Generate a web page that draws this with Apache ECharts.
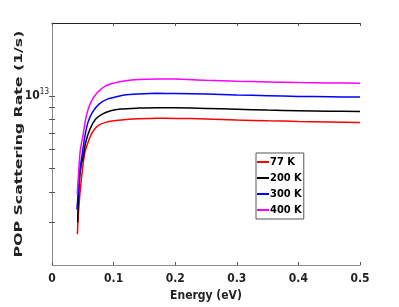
<!DOCTYPE html>
<html>
<head>
<meta charset="utf-8">
<script src="https://cdn.jsdelivr.net/npm/echarts@6/dist/echarts.min.js"></script>
<style>
html,body{margin:0;padding:0;background:#fff;}
#c{width:399px;height:307px;}
</style>
</head>
<body>
<div id="c"></div>
<script>
// Energy (eV) sample points per curve, and POP scattering rate in units of 1e12 1/s
const energy77  = [0.0412, 0.0433, 0.0476, 0.053, 0.0584, 0.0655, 0.0747, 0.087, 0.1006, 0.117, 0.14, 0.17, 0.2, 0.25, 0.3, 0.35, 0.4, 0.45, 0.5];
const rate77    = [2.68, 3.39, 4.51, 5.77, 6.42, 7.06, 7.53, 7.77, 7.89, 7.97, 8.04, 8.08, 8.07, 8.03, 7.95, 7.89, 7.84, 7.80, 7.76];
const energy200 = [0.0417, 0.0422, 0.0443, 0.047, 0.0509, 0.0547, 0.0617, 0.0709, 0.0817, 0.0953, 0.1115, 0.14, 0.17, 0.2, 0.25, 0.3, 0.35, 0.4, 0.45, 0.5];
const rate200   = [3.00, 3.39, 4.38, 5.10, 5.66, 6.42, 7.29, 8.02, 8.41, 8.68, 8.82, 8.90, 8.94, 8.93, 8.87, 8.80, 8.73, 8.68, 8.64, 8.62];
const energy300 = [0.0405, 0.0428, 0.0453, 0.0487, 0.0536, 0.0584, 0.0655, 0.0763, 0.0898, 0.106, 0.117, 0.14, 0.17, 0.2, 0.25, 0.3, 0.35, 0.4, 0.45, 0.5];
const rate300   = [3.39, 4.10, 4.96, 5.66, 6.85, 7.77, 8.54, 9.24, 9.69, 9.93, 10.07, 10.17, 10.24, 10.23, 10.17, 10.09, 10.02, 9.95, 9.91, 9.88];
const energy400 = [0.041, 0.043, 0.0455, 0.048, 0.0503, 0.0557, 0.0628, 0.0736, 0.087, 0.103, 0.117, 0.14, 0.17, 0.2, 0.25, 0.3, 0.35, 0.4, 0.45, 0.5];
const rate400   = [3.92, 4.73, 5.83, 6.41, 6.85, 8.27, 9.38, 10.32, 10.99, 11.34, 11.53, 11.69, 11.75, 11.73, 11.60, 11.50, 11.42, 11.35, 11.31, 11.28];

const seriesNames = ['77 K', '200 K', '300 K', '400 K'];
const seriesColors = ['#ff0000', '#000000', '#0000ff', '#ff00ff'];
const xTicks = [0, 0.1, 0.2, 0.3, 0.4, 0.5];
const yTickValues = [3e12, 4e12, 5e12, 6e12, 7e12, 8e12, 9e12, 1e13];
const yLabelValues = [1e13];
const xTitle = 'Energy (eV)';
const yTitle = 'POP Scattering Rate (1/s)';

const UNIT = 1e12;
const allEnergy = [energy77, energy200, energy300, energy400];
const allRates = [rate77, rate200, rate300, rate400];
const condensed = '"DejaVu Sans Condensed", "Liberation Sans Narrow", "DejaVu Sans", sans-serif';

const chart = echarts.init(document.getElementById('c'), null, {renderer: 'canvas'});

const xBase = {
  type: 'value', min: 0, max: 0.5, interval: 0.1,
  splitLine: {show: false},
  axisTick: {inside: true, length: 3, lineStyle: {color: '#555'}}
};
const yBase = {
  type: 'log', logBase: 10, min: 2e12, max: 2e13,
  splitLine: {show: false},
  axisTick: {inside: true, length: 3, customValues: yTickValues, lineStyle: {color: '#555'}}
};

chart.setOption({
  animation: false,
  grid: {left: 52, right: 39, top: 23, bottom: 42, containLabel: false, outerBoundsMode: 'none'},
  legend: {
    orient: 'vertical',
    left: 256, top: 153,
    data: seriesNames,
    icon: 'rect',
    itemWidth: 12, itemHeight: 2,
    itemGap: 4,
    padding: [3, 2, 3, 1],
    borderColor: '#555', borderWidth: 1,
    backgroundColor: '#fff',
    textStyle: {fontFamily: condensed, fontWeight: 'bold', fontSize: 11, color: '#000', lineHeight: 12, padding: [0, 0, 0, -4]}
  },
  graphic: [{
    type: 'text',
    x: 19, y: 144,
    rotation: Math.PI / 2,
    scaleX: 1.43,
    style: {
      text: yTitle,
      font: 'bold 11px "DejaVu Sans", sans-serif',
      fill: '#222',
      align: 'center',
      verticalAlign: 'middle'
    }
  }],
  xAxis: [
    Object.assign({}, xBase, {
      position: 'bottom',
      name: xTitle, nameLocation: 'middle', nameGap: 25,
      nameTextStyle: {fontFamily: condensed, fontWeight: 'bold', fontSize: 12, color: '#222'},
      axisLine: {lineStyle: {color: '#8a8a8a', width: 1}},
      axisLabel: {fontFamily: condensed, fontWeight: 'bold', fontSize: 12, color: '#222', margin: 8,
        customValues: xTicks,
        formatter: v => (v === 0 ? '0' : String(+v.toFixed(1)))}
    }),
    Object.assign({}, xBase, {
      position: 'top',
      axisLine: {lineStyle: {color: '#222', width: 1}},
      axisLabel: {show: false}
    })
  ],
  yAxis: [
    Object.assign({}, yBase, {
      position: 'left',
      axisLine: {lineStyle: {color: '#8a8a8a', width: 1}},
      axisLabel: {
        customValues: yLabelValues,
        margin: 3,
        formatter: v => '{b|10}{s|' + Math.round(Math.log10(v)) + '}',
        rich: {
          b: {fontFamily: condensed, fontWeight: 'bold', fontSize: 12, color: '#222'},
          s: {fontFamily: condensed, fontSize: 8, color: '#222', padding: [0, 0, 7, 0]}
        }
      }
    }),
    Object.assign({}, yBase, {
      position: 'right',
      axisLine: {lineStyle: {color: '#8a8a8a', width: 1}},
      axisLabel: {show: false}
    })
  ],
  series: allRates.map((arr, i) => ({
    name: seriesNames[i],
    type: 'line',
    xAxisIndex: 0, yAxisIndex: 0,
    data: allEnergy[i].map((e, j) => [e, arr[j] * UNIT]),
    showSymbol: false,
    smooth: 0.3,
    lineStyle: {color: seriesColors[i], width: 1.5},
    itemStyle: {color: seriesColors[i]},
    z: 2 + i
  }))
});
</script>
</body>
</html>
